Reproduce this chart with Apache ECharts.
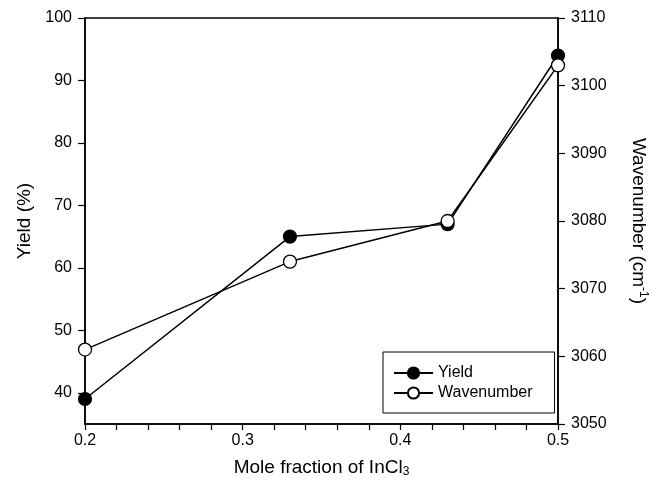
<!DOCTYPE html>
<html>
<head>
<meta charset="utf-8">
<script src="https://cdn.jsdelivr.net/npm/echarts@6/dist/echarts.min.js"></script>
<style>
  html, body { margin: 0; padding: 0; background: #fff; }
  #chart { width: 652px; height: 493px; }
</style>
</head>
<body>
<div id="chart"></div>
<script>
// Mole fraction of InCl3 for each sample
const moleFraction = [0.2, 0.33, 0.43, 0.5];
// Product yield (%)
const yieldValues = [39, 65, 67, 94];
// C-H stretching wavenumber (cm-1)
const wavenumberValues = [3061, 3074, 3080, 3103];

// Tick positions
const xLabelTicks = [0.2, 0.3, 0.4, 0.5];
const xMinorTicks = [0.2, 0.22, 0.24, 0.26, 0.28, 0.3, 0.32, 0.34, 0.36, 0.38, 0.4, 0.42, 0.44, 0.46, 0.48, 0.5];
const yieldTicks = [40, 50, 60, 70, 80, 90, 100];

const FONT = '"Liberation Sans", Arial, sans-serif';
const tickText = { color: '#000', fontFamily: FONT, fontSize: 16 };
const titleText = { color: '#000', fontFamily: FONT, fontSize: 19 };

const chart = echarts.init(document.getElementById('chart'), null, { renderer: 'canvas' });

const pairs = (ys) => moleFraction.map((x, i) => [x, ys[i]]);

chart.setOption({
  backgroundColor: '#fff',
  animation: false,
  textStyle: { fontFamily: FONT },
  grid: {
    left: 85, right: 94, top: 18, bottom: 69,
    containLabel: false,
    outerBoundsMode: 'none',
    show: true, borderColor: '#000', borderWidth: 1.5, backgroundColor: 'transparent'
  },
  legend: {
    orient: 'vertical',
    left: 383, top: 352,
    padding: [13, 22, 12, 10],
    itemGap: 4,
    itemWidth: 39,
    itemHeight: 14,
    borderColor: '#000',
    borderWidth: 1,
    backgroundColor: '#fff',
    textStyle: { color: '#000', fontFamily: FONT, fontSize: 16 },
    data: ['Yield', 'Wavenumber']
  },
  xAxis: {
    type: 'value',
    min: 0.2, max: 0.5,
    name: 'Mole fraction of InCl{sub|3}',
    nameLocation: 'middle',
    nameGap: 33,
    nameTextStyle: Object.assign({}, titleText, {
      rich: { sub: { fontSize: 12, fontFamily: FONT, color: '#000', verticalAlign: 'bottom', padding: [9, 0, 0, 0] } }
    }),
    axisLine: { show: true, onZero: false, lineStyle: { color: '#000', width: 1.5 } },
    axisTick: { show: true, length: 6, customValues: xMinorTicks, lineStyle: { color: '#000', width: 1.2 } },
    axisLabel: Object.assign({}, tickText, { customValues: xLabelTicks, margin: 9, formatter: (v) => v.toFixed(1) }),
    splitLine: { show: false }
  },
  yAxis: [
    {
      type: 'value',
      min: 35, max: 100,
      position: 'left',
      name: 'Yield (%)',
      nameLocation: 'middle',
      nameGap: 42,
      nameTextStyle: titleText,
      axisLine: { show: true, lineStyle: { color: '#000', width: 1.5 } },
      axisTick: { show: true, length: 7, customValues: yieldTicks, lineStyle: { color: '#000', width: 1.2 } },
      axisLabel: Object.assign({}, tickText, { customValues: yieldTicks, margin: 13 }),
      splitLine: { show: false }
    },
    {
      type: 'value',
      min: 3050, max: 3110, interval: 10,
      position: 'right',
      name: 'Wavenumber (cm{sup|-1})',
      nameLocation: 'middle',
      nameRotate: -90,
      nameGap: 70,
      nameTextStyle: Object.assign({}, titleText, {
        rich: { sup: { fontSize: 12, fontFamily: FONT, color: '#000', verticalAlign: 'top', padding: [0, 0, 9, 0] } }
      }),
      axisLine: { show: true, lineStyle: { color: '#000', width: 1.5 } },
      axisTick: { show: true, length: 7, lineStyle: { color: '#000', width: 1.2 } },
      axisLabel: Object.assign({}, tickText, { margin: 13, formatter: (v) => String(v) }),
      splitLine: { show: false }
    }
  ],
  series: [
    {
      name: 'Yield',
      type: 'line',
      yAxisIndex: 0,
      data: pairs(yieldValues),
      symbol: 'circle',
      symbolSize: 13,
      lineStyle: { color: '#000', width: 1.5 },
      itemStyle: { color: '#000', borderColor: '#000', borderWidth: 1.2 },
      z: 2
    },
    {
      name: 'Wavenumber',
      type: 'line',
      yAxisIndex: 1,
      data: pairs(wavenumberValues),
      symbol: 'circle',
      symbolSize: 13,
      lineStyle: { color: '#000', width: 1.5 },
      itemStyle: { color: '#fff', borderColor: '#000', borderWidth: 1.3 },
      z: 3
    }
  ]
});
</script>
</body>
</html>
